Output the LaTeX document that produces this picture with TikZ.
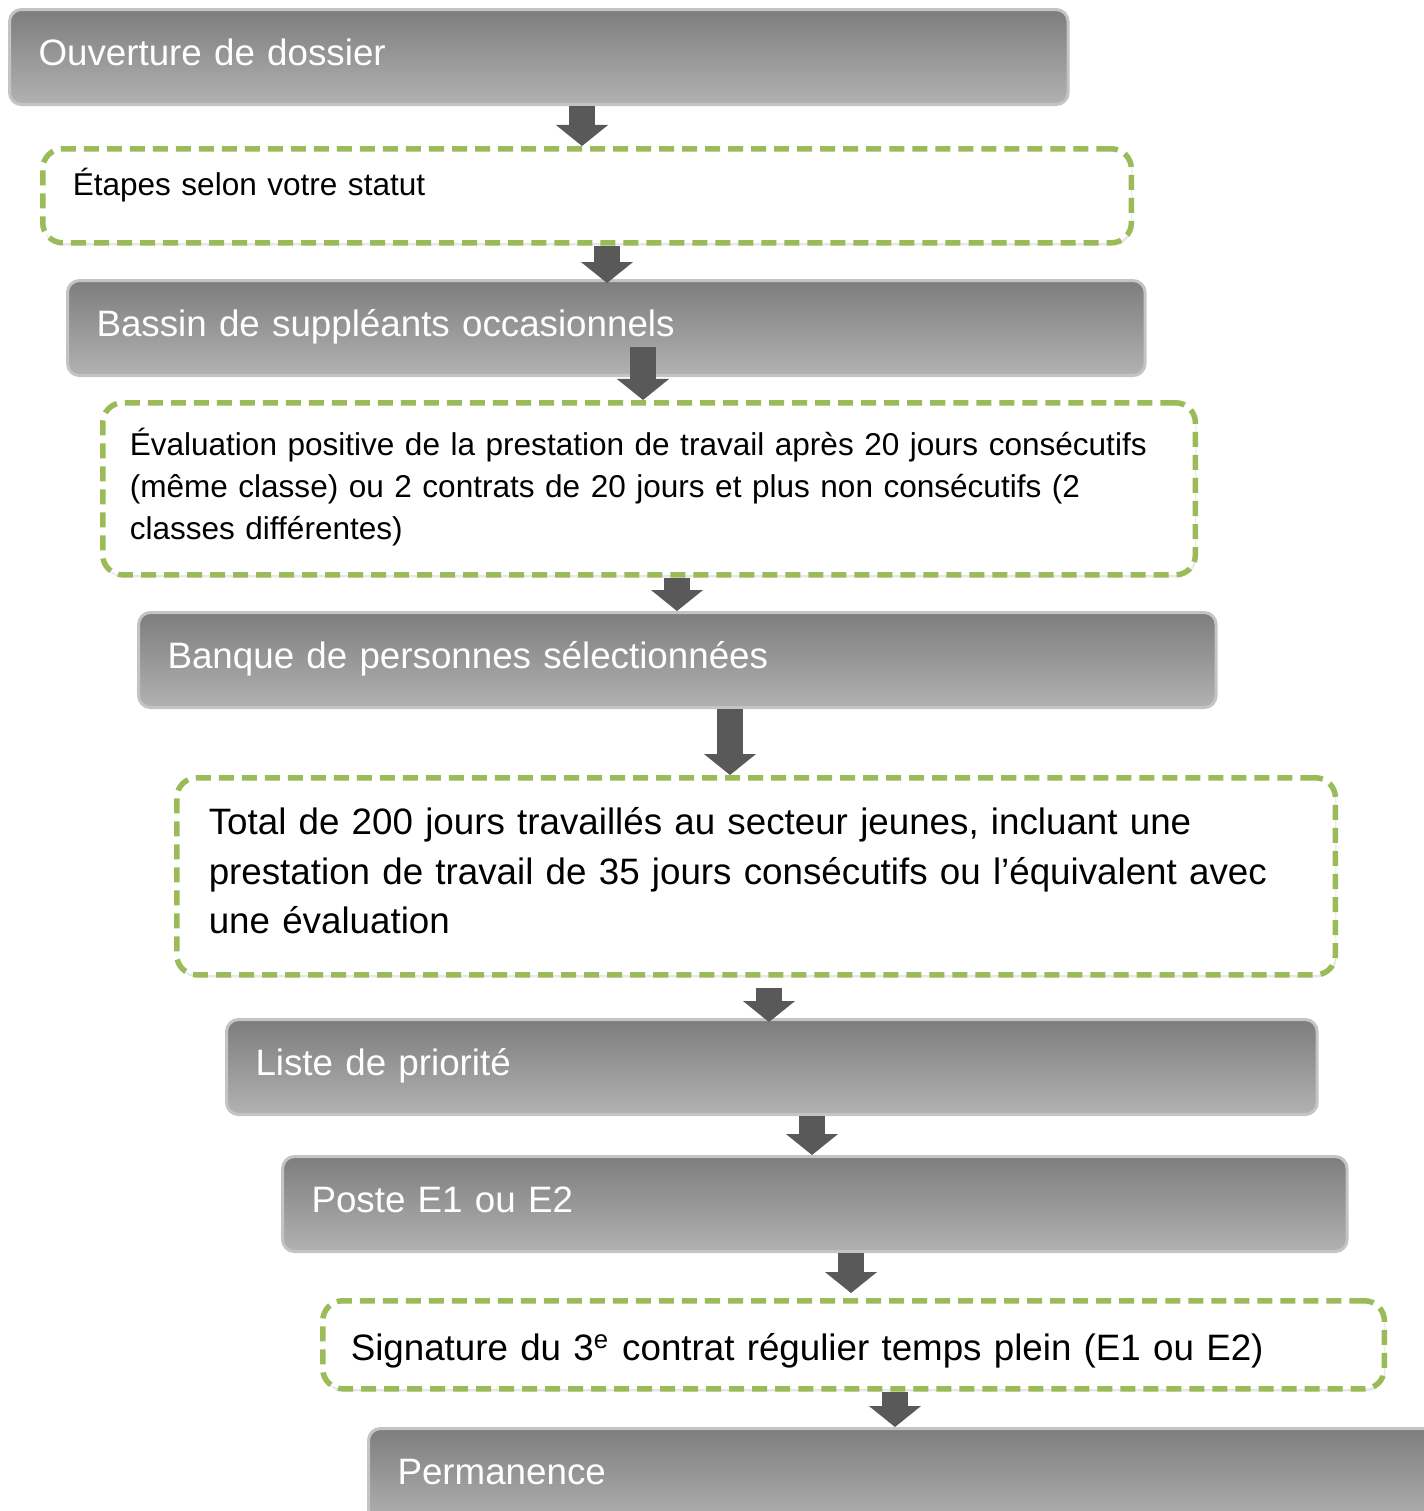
\documentclass[tikz,border=0pt]{standalone}
\usepackage{fontspec}
\setmainfont{Liberation Sans}
\usetikzlibrary{arrows.meta}
\usetikzlibrary{shadows}

\definecolor{boxgray}{HTML}{878787}
\definecolor{boxdark}{HTML}{7D7D7D}
\definecolor{boxlight}{HTML}{B2B2B2}
\definecolor{boxedge}{HTML}{C4C4C4}
\definecolor{arrowgray}{HTML}{595959}
\definecolor{dashgreen}{HTML}{9BBB59}

\newcommand\bigtxt{\fontsize{10.45pt}{14.1pt}\selectfont}
\newcommand\smalltxt{\fontsize{8.97pt}{11.95pt}\selectfont}

\tikzset{
    graybox/.style={anchor=north west, rounded corners=0.12cm, draw=boxedge, line width=0.03cm,
        top color=boxdark, middle color=boxgray, bottom color=boxlight,
        minimum height=0.95cm, inner xsep=0.29cm, align=left, text=white,
        text height=0.32cm, text depth=0.16cm, font=\bigtxt},
    dashbox/.style={anchor=north west, rounded corners=0.2cm, draw=dashgreen, fill=white,
        line width=0.055cm, dash pattern=on 0.15cm off 0.08cm, inner xsep=0.3cm, align=left,
        drop shadow={opacity=0.2, shadow xshift=0.01cm, shadow yshift=-0.025cm}},
    flow/.style={draw=arrowgray, line width=0.25cm, -{Triangle[width=0.51cm, length=0.21cm]}},
}

\begin{document}
\begin{tikzpicture}[x=0.01cm, y=-0.01cm]
    \useasboundingbox (0,0) rectangle (1424,1511);
    % steps
    \node [graybox, minimum width=10.58cm, text width=10.0cm] (ouverture) at (8, 8) {Ouverture de dossier};
    \node [dashbox, minimum width=10.88cm, minimum height=0.94cm, text width=10.28cm,
        font=\smalltxt, text height=0.2cm, text depth=0.2cm] (etapes) at (40, 146) {Étapes selon votre statut};
    \node [graybox, minimum width=10.77cm, text width=10.19cm] (bassin) at (66, 279) {Bassin de suppléants occasionnels};
    \node [dashbox, minimum width=10.88cm, minimum height=1.72cm, text width=10.38cm,
        inner xsep=0.27cm, text height=0.28cm, text depth=0.95cm, font=\smalltxt] (evaluation) at (100, 400)
        {Évaluation positive de la prestation de travail après 20 jours consécutifs\\
         (même classe) ou 2 contrats de 20 jours et plus non consécutifs (2\\
         classes différentes)};
    \node [graybox, minimum width=10.77cm, text width=10.19cm] (banque) at (137, 611) {Banque de personnes sélectionnées};
    \node [dashbox, minimum width=11.58cm, minimum height=1.97cm, text width=10.94cm,
        inner xsep=0.32cm, text height=0.3cm, text depth=1.13cm, font=\bigtxt] (total) at (174, 775)
        {Total de 200 jours travaillés au secteur jeunes, incluant une\\
         prestation de travail de 35 jours consécutifs ou l’équivalent avec\\
         une évaluation};
    \node [graybox, minimum width=10.9cm, text width=10.32cm] (liste) at (225, 1018) {Liste de priorité};
    \node [graybox, minimum width=10.64cm, text width=10.06cm] (poste) at (281, 1155) {Poste E1 ou E2};
    \node [dashbox, minimum width=10.61cm, minimum height=0.88cm, text width=10.05cm,
        inner xsep=0.28cm, text height=0.4cm, text depth=0.08cm, font=\bigtxt] (signature) at (320, 1298)
        {Signature du 3\textsuperscript{e} contrat régulier temps plein (E1 ou E2)};
    \node [graybox, minimum width=11cm, text width=10.42cm] (permanence) at (367, 1427) {Permanence};
    % arrows
    \draw [flow] (ouverture.south -| 582,0) -- (etapes.north -| 582,0);
    \draw [flow, shorten >=-0.04cm] (etapes.south -| 607,0) -- (bassin.north -| 607,0);
    \draw [flow, shorten <=-0.3cm] (bassin.south -| 643,0) -- (evaluation.north -| 643,0);
    \draw [flow] (evaluation.south -| 677,0) -- (banque.north -| 677,0);
    \draw [flow] (banque.south -| 730,0) -- (total.north -| 730,0);
    \draw [flow, shorten <=0.1cm, shorten >=-0.04cm] (total.south -| 769,0) -- (liste.north -| 769,0);
    \draw [flow] (liste.south -| 812,0) -- (poste.north -| 812,0);
    \draw [flow, shorten >=0.05cm] (poste.south -| 851,0) -- (signature.north -| 851,0);
    \draw [flow] (signature.south -| 895,0) -- (permanence.north -| 895,0);
\end{tikzpicture}
\end{document}
